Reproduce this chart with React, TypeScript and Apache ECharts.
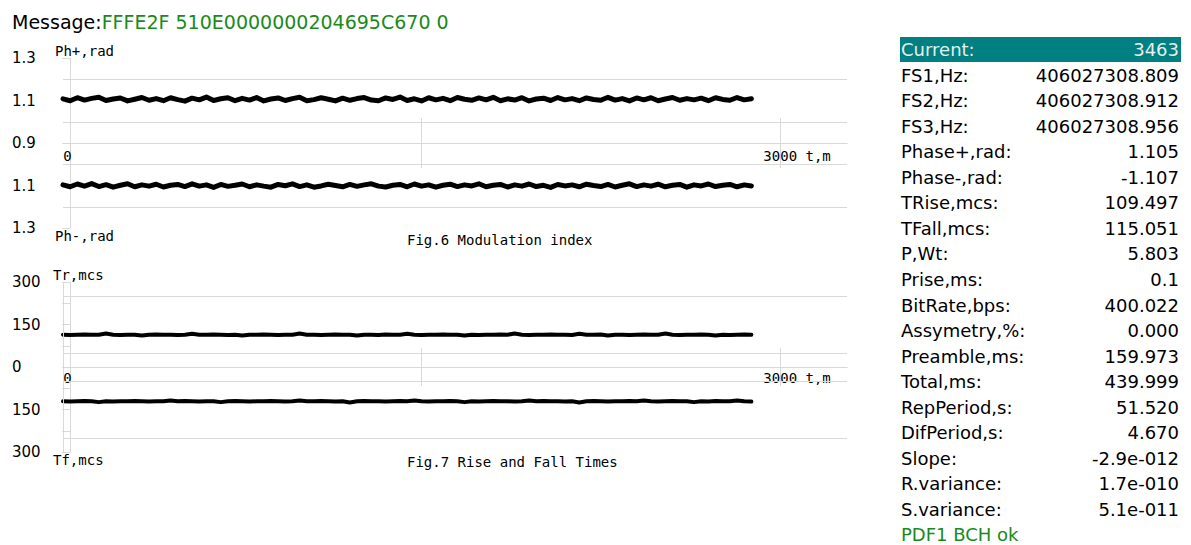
import React, { useEffect, useRef } from 'react';
import * as echarts from 'echarts';

// ---------------- data ----------------
const MESSAGE_KEY = 'Message:';
const MESSAGE_VALUE = 'FFFE2F 510E0000000204695C670 0';

const T_STEP = 30; // t,m between samples
const T_MAX = 3280;
const T_TICKS = [1500, 3000];
const T_LABELS = [0, 3000];
const T_UNIT = ' t,m';

const PHASE_PLUS = [
  1.108, 1.099, 1.113, 1.102, 1.110, 1.115, 1.100, 1.107, 1.112, 1.098,
  1.106, 1.114, 1.101, 1.109, 1.099, 1.113, 1.104, 1.097, 1.111, 1.103,
  1.116, 1.100, 1.108, 1.113, 1.099, 1.110, 1.102, 1.114, 1.098, 1.107,
  1.112, 1.100, 1.109, 1.115, 1.099, 1.104, 1.113, 1.106, 1.098, 1.111,
  1.101, 1.109, 1.114, 1.102, 1.099, 1.112, 1.105, 1.116, 1.100, 1.108,
  1.098, 1.113, 1.103, 1.110, 1.099, 1.114, 1.106, 1.101, 1.112, 1.103,
  1.115, 1.099, 1.108, 1.102, 1.113, 1.098, 1.107, 1.111, 1.100, 1.114,
  1.103, 1.109, 1.099, 1.112, 1.105, 1.101, 1.115, 1.102, 1.109, 1.098,
  1.112, 1.103, 1.113, 1.099, 1.107, 1.114, 1.101, 1.109, 1.103, 1.111,
  1.099, 1.113, 1.105, 1.101, 1.114, 1.103, 1.108,
];

const PHASE_MINUS = [
  -1.097, -1.106, -1.093, -1.103, -1.091, -1.105, -1.096, -1.108, -1.099, -1.092,
  -1.106, -1.097, -1.103, -1.094, -1.107, -1.099, -1.095, -1.105, -1.092, -1.103,
  -1.097, -1.109, -1.095, -1.104, -1.099, -1.093, -1.106, -1.097, -1.103, -1.108,
  -1.095, -1.101, -1.092, -1.105, -1.097, -1.108, -1.102, -1.094, -1.100, -1.106,
  -1.095, -1.104, -1.097, -1.092, -1.103, -1.107, -1.099, -1.095, -1.106, -1.093,
  -1.103, -1.097, -1.108, -1.099, -1.094, -1.105, -1.097, -1.102, -1.092, -1.106,
  -1.099, -1.095, -1.107, -1.097, -1.103, -1.093, -1.105, -1.099, -1.109, -1.095,
  -1.102, -1.097, -1.106, -1.094, -1.100, -1.105, -1.095, -1.107, -1.099, -1.092,
  -1.105, -1.097, -1.103, -1.094, -1.106, -1.099, -1.095, -1.108, -1.097, -1.102,
  -1.093, -1.105, -1.099, -1.095, -1.106, -1.097, -1.102,
];

const T_RISE = [
  114, 113, 114, 115, 114, 114, 118, 114, 113, 114,
  114, 111, 114, 115, 114, 114, 113, 114, 117, 114,
  114, 115, 114, 113, 114, 111, 114, 114, 115, 114,
  113, 114, 114, 118, 114, 114, 113, 114, 115, 114,
  114, 111, 114, 114, 113, 115, 114, 114, 117, 114,
  113, 114, 114, 115, 114, 114, 111, 114, 113, 114,
  114, 115, 114, 118, 114, 113, 114, 114, 115, 114,
  114, 113, 117, 114, 114, 115, 111, 114, 114, 113,
  114, 115, 114, 114, 118, 114, 113, 114, 114, 115,
  114, 111, 114, 113, 114, 115, 114,
];

const T_FALL = [
  121, 122, 121, 120, 121, 124, 121, 122, 121, 121,
  120, 121, 122, 121, 121, 118, 121, 120, 121, 122,
  121, 121, 124, 121, 120, 121, 122, 121, 121, 120,
  121, 122, 121, 118, 121, 121, 120, 121, 122, 121,
  125, 121, 120, 121, 121, 122, 121, 120, 121, 118,
  121, 122, 121, 121, 120, 121, 124, 121, 122, 121,
  120, 121, 121, 122, 121, 118, 121, 120, 121, 121,
  122, 121, 125, 121, 120, 121, 122, 121, 121, 120,
  121, 118, 121, 122, 121, 120, 121, 121, 124, 121,
  122, 120, 121, 121, 118, 121, 122,
];

const PH_TICKS_TOP = [1.3];
const PH_TICKS_BOTTOM = [-1.3];
const PH_LABELS_TOP = [0.9, 1.1, 1.3];
const PH_LABELS_BOTTOM = [-1.1, -1.3];
const PH_GRID_TOP = [1.0, 1.2];
const PH_GRID_BOTTOM = [-1.0, -1.2];

const TR_LABELS_TOP = [0, 150, 300];
const TR_LABELS_BOTTOM = [150, 300];
const TR_GRID = [50, 250];

const FIG6_TITLE = 'Fig.6 Modulation index';
const FIG7_TITLE = 'Fig.7 Rise and Fall Times';
const AXIS_NAMES = ['Ph+,rad', 'Ph-,rad', 'Tr,mcs', 'Tf,mcs'];

const CURRENT_LABEL = 'Current:';
const CURRENT_VALUE = '3463';
const PARAM_NAMES = [
  'FS1,Hz:', 'FS2,Hz:', 'FS3,Hz:', 'Phase+,rad:', 'Phase-,rad:', 'TRise,mcs:',
  'TFall,mcs:', 'P,Wt:', 'Prise,ms:', 'BitRate,bps:', 'Assymetry,%:', 'Preamble,ms:',
  'Total,ms:', 'RepPeriod,s:', 'DifPeriod,s:', 'Slope:', 'R.variance:', 'S.variance:',
];
const PARAM_VALUES = [
  '406027308.809', '406027308.912', '406027308.956', '1.105', '-1.107', '109.497',
  '115.051', '5.803', '0.1', '400.022', '0.000', '159.973',
  '439.999', '51.520', '4.670', '-2.9e-012', '1.7e-010', '5.1e-011',
];
const STATUS = 'PDF1 BCH ok';

// ---------------- styles ----------------
const GRID_COLOR = '#d9d9d9';
const FONT = 'DejaVu Sans';
const MONO = 'DejaVu Sans Mono';
const GREEN = '#1a8a1a';
const TEAL = '#008080';

const toPoints = (arr: number[]) => arr.map((v, i) => [i * T_STEP, v]);

function xAxisDef(gridIndex: number, isUpper: boolean, tickLen: number, labelMargin: number) {
  return {
    type: 'value',
    gridIndex,
    min: 0,
    max: T_MAX,
    interval: 1500,
    position: isUpper ? 'bottom' : 'top',
    axisLine: { show: true, onZero: false, lineStyle: { color: GRID_COLOR, width: 1 } },
    axisTick: {
      show: true,
      inside: true,
      length: tickLen,
      customValues: T_TICKS,
      lineStyle: { color: GRID_COLOR, width: 1 },
    },
    axisLabel: isUpper
      ? {
          show: true,
          customValues: T_LABELS,
          margin: labelMargin,
          fontFamily: MONO,
          fontSize: 14,
          color: '#000',
          formatter: (v: number) =>
            v === 0 ? '{p0| }0' : v === 3000 ? '{p3| }3000' + T_UNIT : '',
          rich: {
            p0: { width: 9, fontFamily: MONO, fontSize: 14 },
            p3: { width: 34, fontFamily: MONO, fontSize: 14 },
          },
        }
      : { show: false },
    splitLine: { show: false },
  };
}

function yAxisPair(
  gridIndex: number,
  min: number,
  max: number,
  interval: number,
  inverse: boolean,
  tickValues: number[] | undefined,
  labelValues: number[],
  decimals: number
) {
  const base = {
    type: 'value',
    gridIndex,
    min,
    max,
    interval,
    inverse,
    offset: -7,
    splitLine: { show: false },
  };
  const tick: any = { show: true, length: 8, lineStyle: { color: GRID_COLOR, width: 1 } };
  if (tickValues) tick.customValues = tickValues;
  return [
    {
      ...base,
      axisLine: { show: true, onZero: false, lineStyle: { color: GRID_COLOR, width: 1 } },
      axisTick: { ...tick, inside: false },
      axisLabel: {
        show: labelValues.length > 0,
        customValues: labelValues,
        align: 'left',
        margin: 58,
        fontFamily: FONT,
        fontSize: 15,
        color: '#000',
        formatter: (v: number) => Math.abs(v).toFixed(decimals),
      },
    },
    {
      ...base,
      axisLine: { show: false },
      axisTick: { ...tick, inside: true },
      axisLabel: { show: false },
    },
  ];
}

function lineSeries(name: string, data: number[], xi: number, yi: number, width: number, marks: any[]) {
  return {
    type: 'line',
    name,
    xAxisIndex: xi,
    yAxisIndex: yi,
    data: toPoints(data),
    showSymbol: false,
    symbol: 'none',
    silent: true,
    z: 3,
    lineStyle: { color: '#000', width, cap: 'round', join: 'round' },
    markLine: {
      silent: true,
      symbol: ['none', 'none'],
      label: { show: false },
      lineStyle: { color: GRID_COLOR, type: 'solid', width: 1 },
      data: marks,
    },
  };
}

function buildOption() {
  const textEl = (text: string, x: number, y: number, font: string, size: number, fill: string, align = 'left') => ({
    type: 'text',
    x,
    y,
    silent: true,
    style: { text, fill, font: `${size}px "${font}"`, textAlign: align, textVerticalAlign: 'middle' },
  });

  const ROW0 = 49.5;
  const ROW_H = 25.55;
  const panel: any[] = [
    { type: 'rect', silent: true, shape: { x: 900, y: 37, width: 281, height: 25 }, style: { fill: TEAL } },
    textEl(CURRENT_LABEL, 901, ROW0, FONT, 18, '#e6eeee'),
    textEl(CURRENT_VALUE, 1179, ROW0, FONT, 18, '#e6eeee', 'right'),
  ];
  PARAM_NAMES.forEach((n, i) => {
    panel.push(textEl(n, 901, ROW0 + (i + 1) * ROW_H, FONT, 18, '#000'));
    panel.push(textEl(PARAM_VALUES[i], 1179, ROW0 + (i + 1) * ROW_H, FONT, 18, '#000', 'right'));
  });
  panel.push(textEl(STATUS, 901, ROW0 + (PARAM_NAMES.length + 1) * ROW_H, FONT, 18, GREEN));

  const graphic: any[] = [
    {
      type: 'text',
      x: 12,
      y: 22,
      silent: true,
      style: {
        text: `{k|${MESSAGE_KEY}}{v|${MESSAGE_VALUE}}`,
        textVerticalAlign: 'middle',
        rich: {
          k: { fill: '#000', fontFamily: FONT, fontSize: 19 },
          v: { fill: GREEN, fontFamily: FONT, fontSize: 19 },
        },
      },
    },
    textEl(AXIS_NAMES[0], 55, 51, MONO, 14, '#000'),
    textEl(AXIS_NAMES[1], 55, 236, MONO, 14, '#000'),
    textEl(AXIS_NAMES[2], 53, 275, MONO, 14, '#000'),
    textEl(AXIS_NAMES[3], 53, 460, MONO, 14, '#000'),
    textEl(FIG6_TITLE, 407, 240, MONO, 14, '#000'),
    textEl(FIG7_TITLE, 407, 462, MONO, 14, '#000'),
    ...panel,
  ];

  return {
    animation: false,
    backgroundColor: '#fff',
    grid: [
      { left: 63, top: 58, width: 784, height: 85 },
      { left: 63, top: 143, width: 784, height: 85 },
      { left: 63, top: 282, width: 784, height: 85 },
      { left: 63, top: 367, width: 784, height: 85 },
    ],
    xAxis: [
      xAxisDef(0, true, 25, 6),
      xAxisDef(1, false, 25, 6),
      xAxisDef(2, true, 19, 4),
      xAxisDef(3, false, 19, 4),
    ],
    yAxis: [
      ...yAxisPair(0, 0.9, 1.3, 0.1, false, PH_TICKS_TOP, PH_LABELS_TOP, 1),
      ...yAxisPair(1, -1.3, -0.9, 0.1, false, PH_TICKS_BOTTOM, PH_LABELS_BOTTOM, 1),
      ...yAxisPair(2, 0, 300, 75, false, undefined, TR_LABELS_TOP, 0),
      ...yAxisPair(3, 0, 300, 75, true, undefined, TR_LABELS_BOTTOM, 0),
    ],
    series: [
      lineSeries('Ph+,rad', PHASE_PLUS, 0, 0, 5, PH_GRID_TOP.map((v) => ({ yAxis: v }))),
      lineSeries('Ph-,rad', PHASE_MINUS, 1, 2, 5, PH_GRID_BOTTOM.map((v) => ({ yAxis: v }))),
      lineSeries('Tr,mcs', T_RISE, 2, 4, 4, [...TR_GRID.map((v) => ({ yAxis: v })), { xAxis: 0 }]),
      lineSeries('Tf,mcs', T_FALL, 3, 6, 4, [...TR_GRID.map((v) => ({ yAxis: v })), { xAxis: 0 }]),
    ],
    graphic,
  };
}

export default function App() {
  const ref = useRef<HTMLDivElement>(null);
  useEffect(() => {
    if (!ref.current) return;
    const chart = echarts.init(ref.current, undefined, { renderer: 'svg' });
    chart.setOption(buildOption() as any);
    return () => chart.dispose();
  }, []);
  return (
    <div
      ref={ref}
      style={{ position: 'fixed', left: 0, top: 0, width: 1191, height: 545, background: '#fff' }}
    />
  );
}
